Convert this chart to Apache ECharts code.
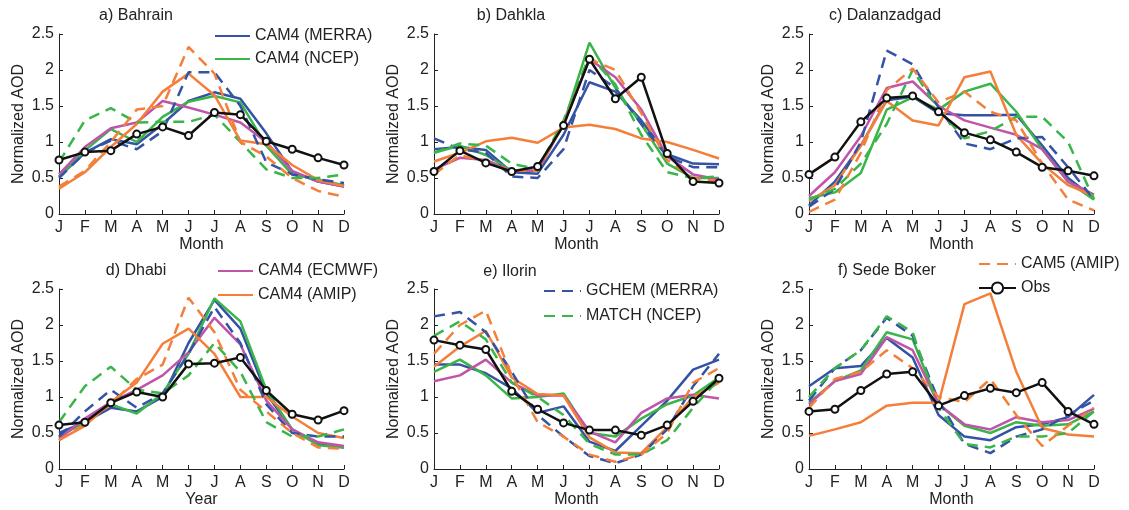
<!DOCTYPE html>
<html>
<head>
<meta charset="utf-8">
<script src="https://cdn.jsdelivr.net/npm/echarts@6/dist/echarts.min.js"></script>
<style>
html,body{margin:0;padding:0;background:#fff;}
#chart{width:1129px;height:510px;}
</style>
</head>
<body>
<div id="chart"></div>
<script>
const months = ['J','F','M','A','M','J','J','A','S','O','N','D'];
const seriesNames = ['CAM4 (MERRA)','CAM4 (NCEP)','CAM4 (ECMWF)','CAM4 (AMIP)','GCHEM (MERRA)','MATCH (NCEP)','CAM5 (AMIP)','Obs'];
const panelTitles = ['a) Bahrain','b) Dahkla','c) Dalanzadgad','d) Dhabi','e) Ilorin','f) Sede Boker'];
const xAxisNames = ['Month','Month','Month','Year','Month','Month'];

// a) Bahrain
const bahrain_cam4Merra = [0.52,0.85,1.04,0.97,1.25,1.57,1.69,1.60,1.12,0.59,0.45,0.38];
const bahrain_cam4Ncep  = [0.52,0.88,1.18,1.00,1.35,1.56,1.64,1.55,0.95,0.55,0.48,0.40];
const bahrain_cam4Ecmwf = [0.55,0.93,1.19,1.27,1.57,1.48,1.38,1.27,1.00,0.60,0.45,0.38];
const bahrain_cam4Amip  = [0.35,0.58,0.93,1.25,1.70,1.95,1.65,1.02,0.97,0.68,0.47,0.39];
const bahrain_gchem     = [0.50,0.85,1.02,0.90,1.15,1.97,1.97,1.50,0.72,0.55,0.48,0.43];
const bahrain_match     = [0.72,1.30,1.47,1.27,1.28,1.28,1.38,1.00,0.62,0.50,0.50,0.55];
const bahrain_cam5      = [0.38,0.60,1.00,1.45,1.50,2.32,1.95,1.00,0.80,0.50,0.32,0.24];
const bahrain_obs       = [0.75,0.86,0.88,1.11,1.21,1.09,1.41,1.38,1.01,0.90,0.78,0.68];

// b) Dahkla
const dahkla_cam4Merra = [0.90,0.93,0.89,0.58,0.56,1.10,1.83,1.70,1.30,0.83,0.70,0.69];
const dahkla_cam4Ncep  = [0.85,0.95,0.82,0.60,0.60,1.25,2.38,1.75,1.25,0.70,0.50,0.50];
const dahkla_cam4Ecmwf = [0.62,0.78,0.75,0.60,0.60,1.25,2.15,1.90,1.45,0.80,0.55,0.48];
const dahkla_cam4Amip  = [0.73,0.85,1.01,1.06,0.99,1.20,1.24,1.18,1.05,1.00,0.89,0.77];
const dahkla_gchem     = [1.05,0.90,0.85,0.52,0.50,0.90,2.00,1.75,1.25,0.80,0.65,0.65];
const dahkla_match     = [0.85,0.98,0.95,0.70,0.62,1.30,2.20,1.80,1.10,0.58,0.50,0.52];
const dahkla_cam5      = [0.55,0.82,0.72,0.60,0.60,1.25,2.15,2.00,1.40,0.75,0.50,0.45];
const dahkla_obs       = [0.59,0.88,0.71,0.59,0.66,1.23,2.15,1.60,1.90,0.84,0.45,0.43];

// c) Dalanzadgad
const dalan_cam4Merra = [0.12,0.45,0.95,1.58,1.63,1.40,1.37,1.37,1.38,0.95,0.50,0.22];
const dalan_cam4Ncep  = [0.22,0.30,0.57,1.45,1.62,1.45,1.70,1.81,1.42,0.90,0.45,0.20];
const dalan_cam4Ecmwf = [0.25,0.58,1.08,1.75,1.84,1.50,1.30,1.20,1.10,0.90,0.45,0.27];
const dalan_cam4Amip  = [0.18,0.40,0.95,1.57,1.30,1.23,1.90,1.98,1.10,0.70,0.40,0.25];
const dalan_gchem     = [0.10,0.35,1.00,2.27,2.08,1.48,0.98,0.90,1.05,1.07,0.65,0.20];
const dalan_match     = [0.20,0.35,0.70,1.25,2.00,1.45,1.05,1.15,1.35,1.35,1.00,0.20];
const dalan_cam5      = [0.03,0.20,0.85,1.72,2.02,1.55,1.70,1.42,1.30,0.70,0.20,0.05];
const dalan_obs       = [0.55,0.79,1.28,1.61,1.64,1.42,1.13,1.03,0.86,0.65,0.60,0.53];

// d) Dhabi
const dhabi_cam4Merra = [0.50,0.65,0.85,0.80,1.00,1.75,2.35,1.95,1.05,0.55,0.35,0.30];
const dhabi_cam4Ncep  = [0.45,0.65,0.90,0.77,1.05,1.60,2.37,2.05,1.10,0.55,0.33,0.30];
const dhabi_cam4Ecmwf = [0.42,0.70,0.93,1.10,1.30,1.62,2.10,1.73,0.95,0.55,0.37,0.32];
const dhabi_cam4Amip  = [0.40,0.60,0.93,1.20,1.74,1.95,1.60,1.00,1.00,0.73,0.50,0.43];
const dhabi_gchem     = [0.45,0.80,1.10,0.85,1.05,1.60,2.25,1.75,0.90,0.50,0.45,0.45];
const dhabi_match     = [0.65,1.15,1.42,1.10,1.05,1.30,1.75,1.35,0.65,0.45,0.45,0.55];
const dhabi_cam5      = [0.40,0.62,0.90,1.25,1.45,2.38,1.90,1.10,0.80,0.50,0.30,0.28];
const dhabi_obs       = [0.61,0.65,0.92,1.07,1.00,1.46,1.47,1.55,1.09,0.76,0.68,0.81];

// e) Ilorin
const ilorin_cam4Merra = [1.45,1.45,1.33,1.12,0.78,0.87,0.38,0.25,0.60,0.95,1.38,1.52];
const ilorin_cam4Ncep  = [1.35,1.52,1.30,0.98,1.00,1.05,0.50,0.45,0.70,0.90,1.02,1.27];
const ilorin_cam4Ecmwf = [1.22,1.30,1.52,1.20,1.02,1.02,0.52,0.37,0.78,0.98,1.03,0.98];
const ilorin_cam4Amip  = [1.42,1.70,1.92,1.27,1.04,1.02,0.44,0.23,0.22,0.58,1.00,1.20];
const ilorin_gchem     = [2.12,2.18,1.90,1.35,0.75,0.45,0.18,0.08,0.20,0.55,1.15,1.60];
const ilorin_match     = [1.85,2.05,1.80,1.20,1.00,0.75,0.35,0.20,0.20,0.40,0.85,1.25];
const ilorin_cam5      = [1.60,2.00,2.20,1.30,0.65,0.45,0.20,0.10,0.20,0.50,1.20,1.40];
const ilorin_obs       = [1.79,1.72,1.66,1.08,0.83,0.64,0.54,0.54,0.47,0.61,0.94,1.26];

// f) Sede Boker
const sede_cam4Merra = [1.15,1.40,1.43,1.82,1.55,0.75,0.45,0.40,0.58,0.62,0.72,1.03];
const sede_cam4Ncep  = [0.92,1.22,1.37,1.90,1.80,0.90,0.60,0.50,0.65,0.60,0.62,0.80];
const sede_cam4Ecmwf = [0.90,1.22,1.32,1.83,1.65,0.90,0.62,0.55,0.72,0.65,0.68,0.84];
const sede_cam4Amip  = [0.46,0.55,0.65,0.88,0.92,0.92,2.29,2.44,1.35,0.57,0.48,0.45];
const sede_gchem     = [0.95,1.40,1.65,2.10,1.85,0.95,0.35,0.22,0.45,0.55,0.75,0.95];
const sede_match     = [1.00,1.40,1.65,2.12,1.90,0.85,0.35,0.30,0.45,0.45,0.50,0.80];
const sede_cam5      = [0.85,1.25,1.35,1.65,1.40,1.00,0.93,1.25,0.75,0.32,0.60,0.85];
const sede_obs       = [0.80,0.83,1.09,1.32,1.35,0.88,1.02,1.12,1.06,1.20,0.80,0.62];

const panelData = [
  [bahrain_cam4Merra,bahrain_cam4Ncep,bahrain_cam4Ecmwf,bahrain_cam4Amip,bahrain_gchem,bahrain_match,bahrain_cam5,bahrain_obs],
  [dahkla_cam4Merra,dahkla_cam4Ncep,dahkla_cam4Ecmwf,dahkla_cam4Amip,dahkla_gchem,dahkla_match,dahkla_cam5,dahkla_obs],
  [dalan_cam4Merra,dalan_cam4Ncep,dalan_cam4Ecmwf,dalan_cam4Amip,dalan_gchem,dalan_match,dalan_cam5,dalan_obs],
  [dhabi_cam4Merra,dhabi_cam4Ncep,dhabi_cam4Ecmwf,dhabi_cam4Amip,dhabi_gchem,dhabi_match,dhabi_cam5,dhabi_obs],
  [ilorin_cam4Merra,ilorin_cam4Ncep,ilorin_cam4Ecmwf,ilorin_cam4Amip,ilorin_gchem,ilorin_match,ilorin_cam5,ilorin_obs],
  [sede_cam4Merra,sede_cam4Ncep,sede_cam4Ecmwf,sede_cam4Amip,sede_gchem,sede_match,sede_cam5,sede_obs]
];

const FONT = "'Liberation Sans', Arial, Helvetica, sans-serif";
const BLUE = '#3553a4', GREEN = '#3ab54a', MAGENTA = '#c054a8', ORANGE = '#f47f3a', BLACK = '#111111';
const styles = [
  {color: BLUE, dash: 'solid'},
  {color: GREEN, dash: 'solid'},
  {color: MAGENTA, dash: 'solid'},
  {color: ORANGE, dash: 'solid'},
  {color: BLUE, dash: [11, 7]},
  {color: GREEN, dash: [11, 7]},
  {color: ORANGE, dash: [11, 7]},
  {color: BLACK, dash: 'solid'}
];

const gridLefts = [59, 434, 809];
const gridTops = [34, 289];
const titleCenters = [[136, 8], [511, 8], [885, 8], [136, 263], [510, 264], [887, 263]];

const grids = [], xAxes = [], yAxes = [], series = [], titles = [];
for (let p = 0; p < 6; p++) {
  const col = p % 3, row = Math.floor(p / 3);
  grids.push({left: gridLefts[col], top: gridTops[row], width: 285, height: 180, containLabel: false});
  xAxes.push({
    type: 'category', gridIndex: p, data: months, boundaryGap: false,
    name: xAxisNames[p], nameLocation: 'middle', nameGap: 23,
    nameTextStyle: {fontFamily: FONT, fontSize: 16, color: '#222'},
    axisLine: {lineStyle: {color: '#222', width: 1}},
    axisTick: {inside: true, length: 4, lineStyle: {color: '#222'}},
    axisLabel: {interval: 0, fontFamily: FONT, fontSize: 16, color: '#222', margin: 6},
    splitLine: {show: false}
  });
  yAxes.push({
    type: 'value', gridIndex: p, min: 0, max: 2.5, interval: 0.5,
    name: 'Normalized AOD', nameLocation: 'middle', nameGap: 32, nameRotate: 90,
    nameTextStyle: {fontFamily: FONT, fontSize: 16, color: '#222'},
    axisLine: {show: true, lineStyle: {color: '#222', width: 1}},
    axisTick: {show: true, inside: true, length: 4, lineStyle: {color: '#222'}},
    axisLabel: {fontFamily: FONT, fontSize: 16, color: '#222', margin: 5},
    splitLine: {show: false}
  });
  titles.push({
    text: panelTitles[p], left: titleCenters[p][0], top: titleCenters[p][1], textAlign: 'center',
    textStyle: {fontFamily: FONT, fontSize: 16, fontWeight: 'normal', color: '#222'}, padding: 0
  });
  for (let s = 0; s < 8; s++) {
    const isObs = s === 7;
    series.push({
      type: 'line', name: seriesNames[s], xAxisIndex: p, yAxisIndex: p,
      data: panelData[p][s],
      symbol: isObs ? 'emptyCircle' : 'none',
      symbolSize: isObs ? 7 : 0,
      showSymbol: isObs,
      itemStyle: {color: styles[s].color, borderWidth: isObs ? 3.5 : 0},
      lineStyle: {color: styles[s].color, width: 2.5, type: styles[s].dash},
      z: isObs ? 10 : 2 + s * 0.1,
      animation: false,
      silent: true
    });
  }
}

const legendBase = {
  orient: 'vertical', selectedMode: false, padding: 0, itemHeight: 14, itemWidth: 35,
  textStyle: {fontFamily: FONT, fontSize: 16, color: '#222'}
};
const legends = [
  Object.assign({}, legendBase, {data: [{name: 'CAM4 (MERRA)', itemStyle: {opacity: 0}}, {name: 'CAM4 (NCEP)', itemStyle: {opacity: 0}}], left: 214, top: 28, itemGap: 7}),
  Object.assign({}, legendBase, {data: [{name: 'CAM4 (ECMWF)', itemStyle: {opacity: 0}}, {name: 'CAM4 (AMIP)', itemStyle: {opacity: 0}}], left: 217, top: 263, itemGap: 8}),
  Object.assign({}, legendBase, {data: [{name: 'GCHEM (MERRA)', itemStyle: {opacity: 0}}, {name: 'MATCH (NCEP)', itemStyle: {opacity: 0}}], left: 543, top: 283, itemGap: 9, itemWidth: 37}),
  Object.assign({}, legendBase, {data: [{name: 'CAM5 (AMIP)', itemStyle: {opacity: 0}}, 'Obs'], left: 978, top: 256, itemGap: 8, itemWidth: 37})
];

const chart = echarts.init(document.getElementById('chart'), null, {renderer: 'canvas'});
chart.setOption({
  backgroundColor: '#fff',
  animation: false,
  title: titles,
  legend: legends,
  grid: grids,
  xAxis: xAxes,
  yAxis: yAxes,
  series: series
});
</script>
</body>
</html>
